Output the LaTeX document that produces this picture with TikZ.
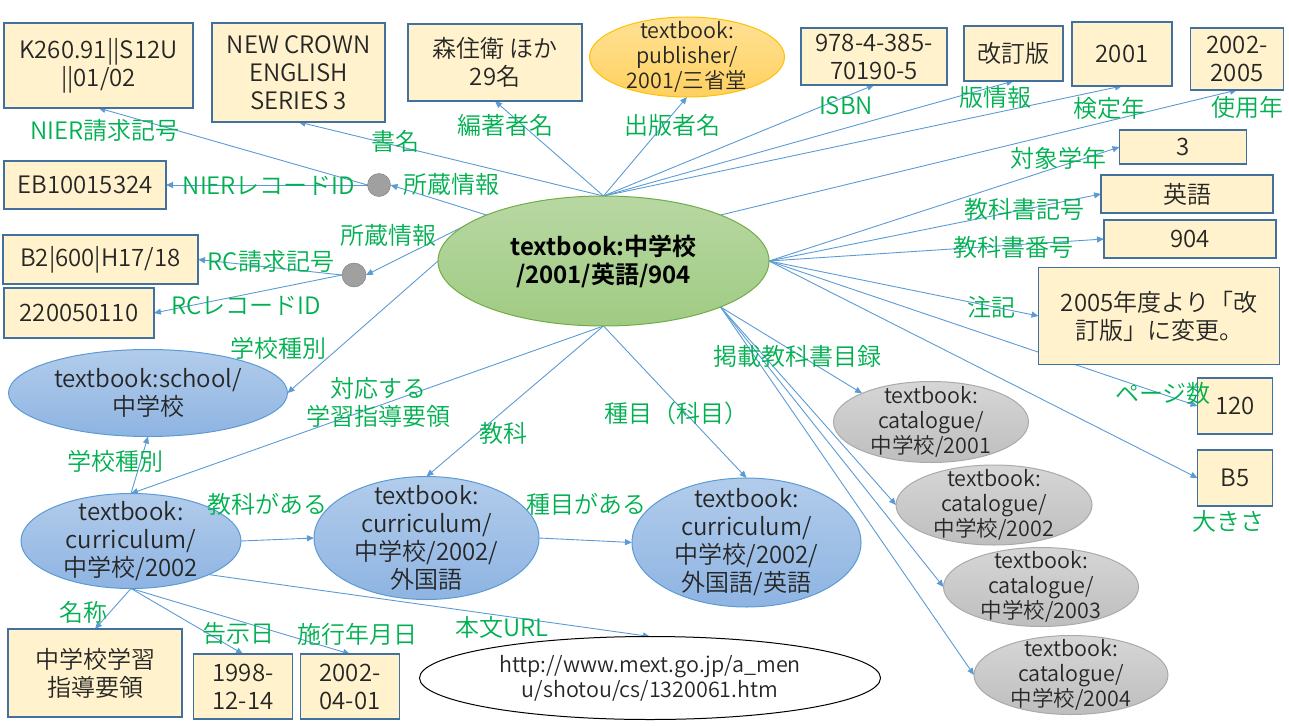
\documentclass[tikz,border=0pt]{standalone}
\usepackage{fontspec}
\setmainfont{Noto Sans CJK JP}[UprightFont={* DemiLight}, BoldFont={* Bold}]
\usetikzlibrary{arrows.meta,backgrounds,shapes.geometric}

\definecolor{boxfill}{HTML}{FFF2CC}
\definecolor{boxline}{HTML}{41719C}
\definecolor{linkblue}{HTML}{5B9BD5}
\definecolor{lblgreen}{HTML}{00B050}
\definecolor{txtgray}{HTML}{262626}

\begin{document}
\begin{tikzpicture}[
	x=1pt, y=-1pt,
	every node/.style={text=txtgray, font=\fontsize{24}{28}\selectfont},
	box/.style={rectangle, draw=boxline, line width=1.2pt, fill=boxfill, align=center, inner sep=0pt, outer sep=0pt},
	oval/.style={ellipse, align=center, inner sep=-30pt, outer sep=0pt, line width=1pt},
	mainclass/.style={oval, draw={rgb,255:red,112;green,173;blue,71}, top color={rgb,255:red,184;green,216;blue,163}, bottom color={rgb,255:red,160;green,203;blue,131}, font=\fontsize{24}{28}\selectfont\bfseries, text=black},
	curclass/.style={oval, draw=linkblue, top color={rgb,255:red,178;green,204;blue,235}, bottom color={rgb,255:red,142;green,180;blue,226}},
	catclass/.style={oval, draw={rgb,255:red,170;green,170;blue,170}, top color={rgb,255:red,214;green,214;blue,214}, bottom color={rgb,255:red,190;green,190;blue,190}, font=\fontsize{21.5}{25}\selectfont},
	pubclass/.style={oval, draw={rgb,255:red,255;green,192;blue,0}, top color={rgb,255:red,255;green,226;blue,150}, bottom color={rgb,255:red,255;green,208;blue,95}, font=\fontsize{21.5}{25}\selectfont},
	holder/.style={circle, draw={rgb,255:red,120;green,120;blue,120}, fill={rgb,255:red,160;green,160;blue,160}, inner sep=0pt, outer sep=0pt},
	lbl/.style={text=lblgreen, inner sep=0pt, align=center},
	arrow/.style={-{Triangle[length=7pt,width=6pt]}, draw=linkblue, line width=0.9pt}
	]
	\useasboundingbox (0,0) rectangle (1289,725);

	% Central record
	\node[mainclass, minimum width=331pt, minimum height=130pt] (main) at (603.5,261) {textbook:中学校\\/2001/英語/904};

	% Top row
	\node[box, minimum width=189pt, minimum height=85pt] (nierCall) at (98.5,65.5) {K260.91||S12U\\||01/02};
	\node[box, minimum width=173pt, minimum height=99pt] (title) at (298.5,72.5) {NEW CROWN\\ENGLISH\\SERIES 3};
	\node[box, minimum width=174pt, minimum height=77pt] (author) at (495,62.5) {森住衛 ほか\\29名};
	\node[pubclass, minimum width=195pt, minimum height=80pt] (pub) at (687,57) {textbook:\\publisher/\\2001/三省堂};
	\node[box, minimum width=146pt, minimum height=57pt] (isbn) at (874,56.5) {978-4-385-\\70190-5};
	\node[box, minimum width=99pt, minimum height=55pt] (edition) at (1013.5,53.5) {改訂版};
	\node[box, minimum width=100pt, minimum height=64pt] (certYear) at (1122,54) {2001};
	\node[box, minimum width=93pt, minimum height=62pt] (useYear) at (1237,59) {2002-\\2005};

	% Right column
	\node[box, minimum width=127pt, minimum height=34pt] (grade) at (1183,147) {3};
	\node[box, minimum width=172pt, minimum height=38pt] (subjSym) at (1187,194) {英語};
	\node[box, minimum width=172pt, minimum height=38pt] (number) at (1190,239) {904};
	\node[box, minimum width=241pt, minimum height=97pt] (note) at (1159,316) {2005年度より「改\\訂版」に変更。};
	\node[box, minimum width=75pt, minimum height=56pt] (pages) at (1235,406) {120};
	\node[box, minimum width=75pt, minimum height=56pt] (size) at (1235,478) {B5};

	% Holdings
	\node[holder, minimum size=23pt] (nierHold) at (379,185) {};
	\node[holder, minimum size=24pt] (rcHold) at (354,275) {};
	\node[box, minimum width=162pt, minimum height=48pt] (nierId) at (85,185) {EB10015324};
	\node[box, minimum width=195pt, minimum height=49pt] (rcCall) at (100.5,259.5) {B2|600|H17/18};
	\node[box, minimum width=150pt, minimum height=50pt] (rcId) at (79,313) {220050110};

	% Curriculum
	\node[curclass, minimum width=279pt, minimum height=87pt] (school) at (148,393) {textbook:school/\\中学校};
	\node[curclass, minimum width=220pt, minimum height=95pt] (curr) at (131,541) {textbook:\\curriculum/\\中学校/2002};
	\node[curclass, minimum width=225pt, minimum height=123pt] (subj) at (426.5,538) {textbook:\\curriculum/\\中学校/2002/\\外国語};
	\node[curclass, minimum width=229pt, minimum height=129pt] (eng) at (746.5,542.5) {textbook:\\curriculum/\\中学校/2002/\\外国語/英語};
	\node[oval, draw=black, fill=white, minimum width=461pt, minimum height=83pt, font=\fontsize{21.5}{25}\selectfont] (url) at (650,678) {http://www.mext.go.jp/a\_men\\u/shotou/cs/1320061.htm};
	\node[box, minimum width=174pt, minimum height=88pt] (mextName) at (95,673) {中学校学習\\指導要領};
	\node[box, minimum width=99pt, minimum height=65pt] (announce) at (243,686.5) {1998-\\12-14};
	\node[box, minimum width=99pt, minimum height=65pt] (enforce) at (350,686.5) {2002-\\04-01};

	% Catalogues
	\node[catclass, minimum width=195pt, minimum height=81pt] (cat01) at (931,422) {textbook:\\catalogue/\\中学校/2001};
	\node[catclass, minimum width=196pt, minimum height=80pt] (cat02) at (994,505) {textbook:\\catalogue/\\中学校/2002};
	\node[catclass, minimum width=195pt, minimum height=79pt] (cat03) at (1041,587) {textbook:\\catalogue/\\中学校/2003};
	\node[catclass, minimum width=194pt, minimum height=79pt] (cat04) at (1071,675) {textbook:\\catalogue/\\中学校/2004};

	% Arrows
	\begin{pgfonlayer}{background}
	\draw[arrow] (main.north) -- (title.south);
	\draw[arrow] (main.north) -- (author.south);
	\draw[arrow] (main.north) -- (pub.south);
	\draw[arrow] (main.north) -- (isbn.south);
	\draw[arrow] (main.north) -- (edition.south);
	\draw[arrow] (main.north) -- (certYear.south);
	\draw[arrow] (main.north east) -- (useYear.south);
	\draw[arrow] (main.east) -- (grade.west);
	\draw[arrow] (main.east) -- (subjSym.west);
	\draw[arrow] (main.east) -- (number.west);
	\draw[arrow] (main.east) -- (note.west);
	\draw[arrow] (main.east) -- (pages.west);
	\draw[arrow] (main.east) -- (size.west);
	\draw[arrow] (main.south east) -- (cat01.north west);
	\draw[arrow] (main.south east) -- (cat02.west);
	\draw[arrow] (main.south east) -- (cat03.west);
	\draw[arrow] (main.south east) -- (cat04.west);
	\draw[arrow] (main.south) -- (curr.north);
	\draw[arrow] (main.south) -- (subj.north);
	\draw[arrow] (main.south) -- (eng.north);
	\draw[arrow] (main.west) -- (school.east);
	\draw[arrow] (main.north west) -- (nierHold.east);
	\draw[arrow] (main.north west) -- (rcHold.east);
	\draw[arrow] (nierHold.west) -- (nierCall.south);
	\draw[arrow] (nierHold.west) -- (nierId.east);
	\draw[arrow] (rcHold.west) -- (rcCall.east);
	\draw[arrow] (rcHold.west) -- (rcId.east);
	\draw[arrow] (curr.north) -- (school.south);
	\draw[arrow] (curr.east) -- (subj.west);
	\draw[arrow] (subj.east) -- (eng.west);
	\draw[arrow] (curr.south east) -- (url.north);
	\draw[arrow] (curr.south) -- (mextName.north);
	\draw[arrow] (curr.south) -- (announce.north);
	\draw[arrow] (curr.south) -- (enforce.north);
	\end{pgfonlayer}

	% Labels
	\node[lbl] (lNierCall) at (105,130) {NIER請求記号};
	\node[lbl] (lTitle) at (395,141) {書名};
	\node[lbl] (lNierId) at (269,186) {NIERレコードID};
	\node[lbl] (lHoldA) at (451,184) {所蔵情報};
	\node[lbl] (lAuthor) at (505,125) {編著者名};
	\node[lbl] (lPub) at (672,125) {出版者名};
	\node[lbl] (lIsbn) at (846,106) {ISBN};
	\node[lbl] (lEdition) at (995,97) {版情報};
	\node[lbl] (lCertYear) at (1109,108) {検定年};
	\node[lbl] (lUseYear) at (1247,107) {使用年};
	\node[lbl] (lGrade) at (1058,158) {対象学年};
	\node[lbl] (lSubjSym) at (1024,209) {教科書記号};
	\node[lbl] (lNumber) at (1013,247) {教科書番号};
	\node[lbl] (lNote) at (991,307) {注記};
	\node[lbl] (lPages) at (1163,393) {ページ数};
	\node[lbl] (lSize) at (1228,521) {大きさ};
	\node[lbl] (lCat) at (797,356) {掲載教科書目録};
	\node[lbl] (lEng) at (676,413) {種目（科目）};
	\node[lbl] (lSubj) at (503,433) {教科};
	\node[lbl] (lCurr) at (378,402) {対応する\\学習指導要領};
	\node[lbl] (lSchoolA) at (278,348) {学校種別};
	\node[lbl] (lHoldB) at (388,235) {所蔵情報};
	\node[lbl] (lRcCall) at (271,261) {RC請求記号};
	\node[lbl] (lRcId) at (246,306) {RCレコードID};
	\node[lbl] (lSchoolB) at (115,461) {学校種別};
	\node[lbl] (lHasSubj) at (267,504) {教科がある};
	\node[lbl] (lHasEng) at (586,504) {種目がある};
	\node[lbl] (lName) at (83,612) {名称};
	\node[lbl] (lAnnounce) at (238,633) {告示日};
	\node[lbl] (lEnforce) at (357,634) {施行年月日};
	\node[lbl] (lUrl) at (502,627) {本文URL};
\end{tikzpicture}
\end{document}
